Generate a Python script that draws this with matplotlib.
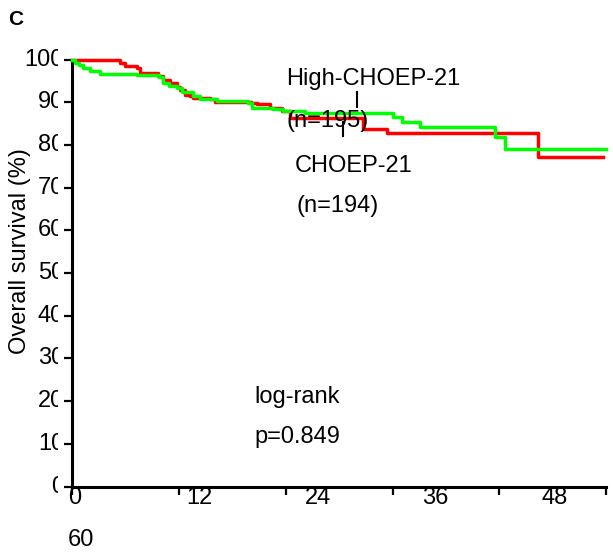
import matplotlib
matplotlib.use("Agg")
import matplotlib.pyplot as plt
from matplotlib.transforms import Bbox

plt.rcParams['font.family'] = ['Liberation Sans', 'DejaVu Sans']

# ---- data ----
red_t = [0, 5.36, 5.9, 7.3, 7.6, 9.6, 10.2, 10.98, 11.8, 12.1, 12.7, 13.2, 13.6, 15.5, 16.0,
         20.1, 20.8, 22.2, 23.6, 24.5, 32.7, 35.4, 52.4, 59.7]
red_s = [100, 99.2, 98.4, 98.0, 96.9, 96.1, 95.3, 94.4, 93.5, 92.8, 91.8, 91.4, 91.0, 90.7, 90.0,
         89.9, 89.5, 88.7, 87.9, 86.4, 83.7, 82.7, 77.1, 77.1]
green_t = [0, 0.3, 0.7, 1.2, 2.0, 3.1, 7.3, 9.8, 10.2, 10.9, 11.8, 12.3, 13.6, 14.4, 16.3,
           19.8, 20.2, 22.6, 23.7, 26.2, 36.0, 37.1, 39.1, 47.5, 48.6, 60.0]
green_s = [100, 99.2, 98.6, 97.9, 97.4, 96.7, 96.4, 95.8, 94.5, 93.9, 93.3, 92.5, 91.4, 90.7, 90.2,
           89.8, 88.6, 88.3, 87.9, 87.5, 86.5, 85.3, 84.1, 81.8, 79.0, 79.0]
censor_t = [32.0, 30.4]
censor_lo = [88.9, 82.1]
censor_hi = [92.4, 85.4]

xticks = [0, 12, 24, 36, 48, 60]
xtick_labels = ['0', '12', '24', '36', '48', '60']
yticks = [0, 10, 20, 30, 40, 50, 60, 70, 80, 90, 100]
ytick_labels = ['0', '10', '20', '30', '40', '50', '60', '70', '80', '90', '100']

W, H = 613, 558
fig = plt.figure(figsize=(W / 100, H / 100), dpi=100)

def fx(x):
    return x / W

def fy(y):
    return 1 - y / H

L, R, T, B = 72.3, 606, 59.5, 486.6
ax = fig.add_axes([fx(L), fy(B), (R - L) / W, (B - T) / H])
ax.set_xlim(0, 60)
ax.set_ylim(0, 100)

ax.step(red_t, red_s, where='post', color='#ff0000', lw=2.5, clip_on=False, zorder=3)
ax.step(green_t, green_s, where='post', color='#00ff00', lw=2.5, clip_on=False, zorder=3)
for t, lo, hi in zip(censor_t, censor_lo, censor_hi):
    ax.plot([t, t], [lo, hi], color='black', lw=1.5, clip_on=False, zorder=4)

for s in ['top', 'right']:
    ax.spines[s].set_visible(False)
for s in ['left', 'bottom']:
    ax.spines[s].set_linewidth(2.2)
    ax.spines[s].set_color('black')

ax.set_xticks(xticks)
ax.set_yticks(yticks)
ax.set_xticklabels([])
ax.set_yticklabels([])
ax.tick_params(axis='both', direction='out', length=5.5, width=1.6, color='black')

fs = 17

# y tick labels (clipped at right, as in the original)
clip = Bbox([[0, 0], [58.3, H]])
for v, lab in zip(yticks, ytick_labels):
    t = ax.text(-(L - 64.0) / (R - L), v, lab, transform=ax.get_yaxis_transform(),
                ha='right', va='center', fontsize=fs, color='black')
    t.set_clip_box(clip)
    t.set_clip_on(True)

# x tick labels (shifted, with the last one wrapped to a second line)
xl_left = [70, 188, 306, 424, 543, 69]
xl_y = [498, 498, 498, 498, 498, 540]
for lab, xx, yy in zip(xtick_labels, xl_left, xl_y):
    fig.text(fx(xx - 1.5), fy(yy), lab, ha='left', va='center', fontsize=fs, color='black')

fig.text(fx(20), fy(251), 'Overall survival (%)', rotation=90, ha='center', va='center',
         fontsize=fs, color='black')

fig.text(fx(8), fy(25), 'C', fontsize=15, fontweight='bold', ha='left', va='baseline')

fig.text(fx(286), fy(85), 'High-CHOEP-21', fontsize=fs, ha='left', va='baseline')
fig.text(fx(287), fy(127), '(n=195)', fontsize=fs, ha='left', va='baseline')
fig.text(fx(295), fy(172), 'CHOEP-21', fontsize=fs, ha='left', va='baseline')
fig.text(fx(296), fy(212), '(n=194)', fontsize=fs, ha='left', va='baseline')
fig.text(fx(254), fy(403), 'log-rank', fontsize=fs, ha='left', va='baseline')
fig.text(fx(254), fy(443), 'p=0.849', fontsize=fs, ha='left', va='baseline')

fig.savefig('out.png', dpi=100, facecolor='white')
